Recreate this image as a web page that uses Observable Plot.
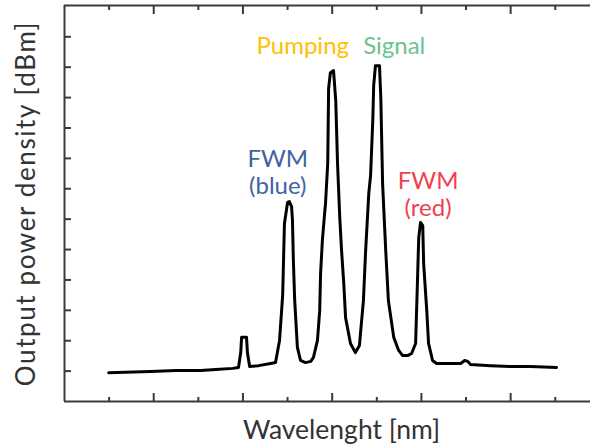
<!DOCTYPE html>
<html>
<head>
<meta charset="utf-8">
<script src="https://cdn.jsdelivr.net/npm/d3@7"></script>
<script src="https://cdn.jsdelivr.net/npm/@observablehq/plot@0.6"></script>
<style>
  html, body { margin: 0; padding: 0; background: #fff; }
  #chart svg { display: block; }
</style>
</head>
<body>
<div id="chart"></div>
<script>
// Wavelength (arbitrary units, one unit per tick) and output power (arbitrary dB units, one unit per tick)
const wavelength = [0.99,1.93,2.49,3.05,3.39,3.77,3.90,3.95,3.97,4.08,4.10,4.15,4.35,4.62,4.73,4.82,4.89,4.93,5.00,5.04,5.09,5.11,5.13,5.16,5.22,5.29,5.40,5.52,5.58,5.67,5.72,5.74,5.78,5.83,5.85,5.90,5.92,5.96,6.03,6.08,6.12,6.17,6.21,6.26,6.30,6.41,6.52,6.61,6.70,6.75,6.82,6.86,6.91,6.93,6.97,7.06,7.09,7.13,7.20,7.26,7.38,7.49,7.58,7.69,7.78,7.87,7.91,7.94,7.98,8.03,8.05,8.12,8.16,8.25,8.34,8.65,8.88,8.97,9.04,9.10,9.55,10.00,10.45,11.03];
const power = [0.95,0.99,1.02,1.02,1.05,1.09,1.12,1.61,2.11,2.11,1.61,1.15,1.18,1.25,1.28,2.01,3.49,5.86,6.55,6.58,6.41,5.95,4.64,3.32,1.78,1.35,1.28,1.32,1.45,2.01,2.99,4.21,5.30,6.18,6.51,7.83,10.30,10.82,10.89,9.90,7.83,6.05,4.97,3.88,2.76,1.91,1.61,1.84,3.32,4.97,6.84,7.43,9.24,10.39,11.05,11.05,10.00,7.17,4.97,3.32,2.11,1.68,1.51,1.51,1.58,1.91,3.88,5.39,5.89,5.79,4.54,2.99,1.91,1.35,1.25,1.25,1.25,1.35,1.32,1.22,1.18,1.15,1.15,1.12];

const yTicks = [1,2,3,4,5,6,7,8,9,10,11,12];
const xMajorTicks = [2,4,6,8,10];
const xMinorTicks = [1,3,5,7,9,11];

const labelText = ["Pumping", "Signal", "FWM\n(blue)", "FWM\n(red)"];
const labelX = [5.34, 7.39, 4.78, 8.15];
const labelY = [11.72, 11.72, 7.55, 6.82];
const labelColor = ["#FFC000", "#6DC28F", "#3F64A0", "#F0424E"];

const xTitle = "Wavelenght [nm]";
const yTitle = "Output power density [dBm]";

const spectrum = wavelength.map((w, i) => ({w, p: power[i]}));
const labels = labelText.map((t, i) => ({t, x: labelX[i], y: labelY[i], c: labelColor[i]}));

const FONT = "Lato, 'Open Sans', sans-serif";
const frameColor = "#3a3a3a";

const chart = Plot.plot({
  width: 590,
  height: 448,
  marginLeft: 64,
  marginRight: 0,
  marginTop: 5,
  marginBottom: 47,
  style: {fontFamily: FONT, background: "#fff"},
  x: {domain: [0, 11.79], axis: null},
  y: {domain: [0, 13.03], axis: null},
  marks: [
    Plot.axisY({ticks: yTicks, anchor: "left", tickSize: -7, tickFormat: () => "", stroke: frameColor, strokeWidth: 2, label: null}),
    Plot.axisX({ticks: xMajorTicks, anchor: "bottom", tickSize: -8, tickFormat: () => "", stroke: frameColor, strokeWidth: 2, label: null}),
    Plot.axisX({ticks: xMinorTicks, anchor: "bottom", tickSize: -4, tickFormat: () => "", stroke: frameColor, strokeWidth: 2, label: null}),
    Plot.axisX({ticks: xMajorTicks, anchor: "top", tickSize: -8, tickFormat: () => "", stroke: frameColor, strokeWidth: 2, label: null}),
    Plot.axisX({ticks: xMinorTicks, anchor: "top", tickSize: -4, tickFormat: () => "", stroke: frameColor, strokeWidth: 2, label: null}),
    Plot.ruleX([0], {stroke: frameColor, strokeWidth: 2}),
    Plot.ruleY([0, 13.03], {stroke: frameColor, strokeWidth: 2}),
    Plot.line(spectrum, {x: "w", y: "p", stroke: "#000", strokeWidth: 3, strokeLinejoin: "round"}),
    Plot.text(labels, {x: "x", y: "y", text: "t", fill: "c", fontSize: 24, lineHeight: 1.12, textAnchor: "middle", lineAnchor: "middle"}),
    Plot.text([xTitle], {frameAnchor: "bottom", text: d => d, dx: 14, dy: 29, fontSize: 26.5, fill: "#333", lineAnchor: "middle"}),
    Plot.text([yTitle], {frameAnchor: "left", text: d => d, dx: -38, rotate: -90, fontSize: 26, fill: "#333", lineAnchor: "middle", textAnchor: "middle"})
  ]
});
d3.select(chart).selectAll("text").filter(function() { return this.textContent === yTitle; }).attr("letter-spacing", "1.6px");
document.getElementById("chart").appendChild(chart);
</script>
</body>
</html>
